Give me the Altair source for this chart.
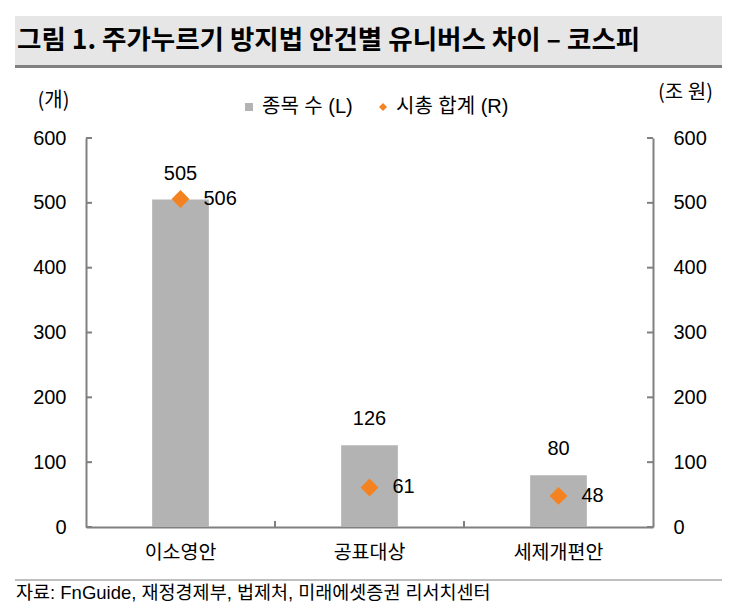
import pandas as pd
import altair as alt

# ── Data ───────────────────────────────────────────────────────────────────────

TITLE = '그림 1. 주가누르기 방지법 안건별 유니버스 차이 – 코스피'
SOURCE = '자료: FnGuide, 재정경제부, 법제처, 미래에셋증권 리서치센터'

categories = ['이소영안', '공표대상', '세제개편안']
stock_counts = [505, 126, 80]      # 종목 수 (L), 개
market_caps = [506, 61, 48]        # 시총 합계 (R), 조 원
series_names = ['종목 수 (L)', '시총 합계 (R)']
y_ticks = [0, 100, 200, 300, 400, 500, 600]

# ── Style ──────────────────────────────────────────────────────────────────────

GREY = '#b3b3b3'
ORANGE = '#f58220'
AXIS = '#808080'
KR = 'Noto Sans CJK KR'
LAT = 'Liberation Sans, Noto Sans CJK KR'
W, H = 567, 389

df = pd.DataFrame({'category': categories, 'count': stock_counts, 'cap': market_caps})
ticks_df = pd.DataFrame({'v': y_ticks})
bounds_df = pd.DataFrame({'category': categories[1:]})
title_df = pd.DataFrame({'text': [TITLE]})
source_df = pd.DataFrame({'text': [SOURCE]})

xscale = alt.Scale(domain=categories, paddingInner=0, paddingOuter=0)
yscale = alt.Scale(domain=[0, 600], nice=False)
cscale = alt.Scale(domain=series_names, range=[GREY, ORANGE])
sscale = alt.Scale(domain=series_names, range=['square', 'diamond'])

xaxis = alt.Axis(
    orient='bottom', ticks=False, domainColor=AXIS, domainWidth=2,
    labelFont=KR, labelFontSize=19.5, labelColor='black', labelPadding=16,
    labelAngle=0, grid=False,
)
legend = alt.Legend(
    orient='none', legendX=153, legendY=-41, direction='horizontal', title=None,
    labelFont=LAT, labelFontSize=20, labelColor='black', symbolSize=64,
    labelOffset=3, columnPadding=20, padding=0,
)


def x_enc(**kw):
    return alt.X('category:N', sort=categories, scale=xscale, axis=xaxis, title=None, **kw)


def y_axis(orient, title, tx, ty):
    return alt.Axis(
        orient=orient, values=y_ticks, ticks=False, grid=False,
        domainColor=AXIS, domainWidth=2,
        labelFont=LAT, labelFontSize=20, labelColor='black', labelPadding=20,
        title=title, titleAngle=0, titleX=tx, titleY=ty, titleFont=KR,
        titleFontSize=20, titleFontWeight='normal', titleAlign='center',
        titleBaseline='middle', titleColor='black',
    )


# ── Decoration ─────────────────────────────────────────────────────────────────

title_bg = alt.Chart(title_df).mark_rect(color='#e6e6e6').encode(
    x=alt.value(-71), x2=alt.value(636), y=alt.value(-122), y2=alt.value(-73)
)
title_line = alt.Chart(title_df).mark_rect(color=AXIS).encode(
    x=alt.value(-71), x2=alt.value(636), y=alt.value(-73), y2=alt.value(-70)
)
title_text = alt.Chart(title_df).mark_text(
    align='left', baseline='middle', font=KR, fontSize=26.5, fontWeight='bold', color='black'
).encode(x=alt.value(-69), y=alt.value(-97), text='text:N')

source_line = alt.Chart(source_df).mark_rule(color=AXIS, strokeWidth=1).encode(
    x=alt.value(-71), x2=alt.value(636), y=alt.value(442)
)
source_text = alt.Chart(source_df).mark_text(
    align='left', baseline='middle', font=LAT, fontSize=18.5, color='black'
).encode(x=alt.value(-70), y=alt.value(455), text='text:N')

# ── Data marks ─────────────────────────────────────────────────────────────────

bars = alt.Chart(df).transform_calculate(
    series=f"'{series_names[0]}'"
).mark_bar(width=alt.RelativeBandSize(0.3)).encode(
    x=x_enc(),
    y=alt.Y('count:Q', scale=yscale, axis=y_axis('left', '(개)', -33, -38)),
    color=alt.Color('series:N', scale=cscale, legend=legend),
)

bar_labels = alt.Chart(df).mark_text(
    baseline='middle', dy=-26, font=LAT, fontSize=20, color='black'
).encode(
    x=x_enc(),
    y=alt.Y('count:Q', scale=yscale, axis=None),
    text='count:Q',
)

points = alt.Chart(df).transform_calculate(
    series=f"'{series_names[1]}'"
).mark_point(filled=True, size=320, opacity=1).encode(
    x=x_enc(),
    y=alt.Y('cap:Q', scale=yscale, axis=y_axis('right', '(조 원)', 32, -46)),
    color=alt.Color('series:N', scale=cscale, legend=legend),
    shape=alt.Shape('series:N', scale=sscale, legend=legend),
)

point_labels = alt.Chart(df).mark_text(
    align='left', baseline='middle', dx=23, font=LAT, fontSize=20, color='black'
).encode(
    x=x_enc(),
    y=alt.Y('cap:Q', scale=yscale, axis=None),
    text='cap:Q',
)

# inward tick marks on both value axes and at category boundaries
left_ticks = alt.Chart(ticks_df).mark_rule(color=AXIS, strokeWidth=2).encode(
    y=alt.Y('v:Q', scale=yscale, axis=None), x=alt.value(0), x2=alt.value(6)
)
right_ticks = alt.Chart(ticks_df).mark_rule(color=AXIS, strokeWidth=2).encode(
    y=alt.Y('v:Q', scale=yscale, axis=None), x=alt.value(W - 6), x2=alt.value(W)
)
x_ticks = alt.Chart(bounds_df).mark_rule(color=AXIS, strokeWidth=2).encode(
    x=x_enc(bandPosition=0), y=alt.value(H), y2=alt.value(H - 6)
)

chart = (
    alt.layer(
        title_bg, title_line, title_text, source_line, source_text,
        bars, bar_labels, points, point_labels, left_ticks, right_ticks, x_ticks,
    )
    .resolve_scale(y='independent')
    .properties(
        width=W, height=H, autosize='none',
        padding={'left': 78, 'top': 130, 'right': 69, 'bottom': 77},
    )
    .configure_view(stroke=None)
)

chart.save('out.html', embed_options={'renderer': 'svg', 'actions': False})
